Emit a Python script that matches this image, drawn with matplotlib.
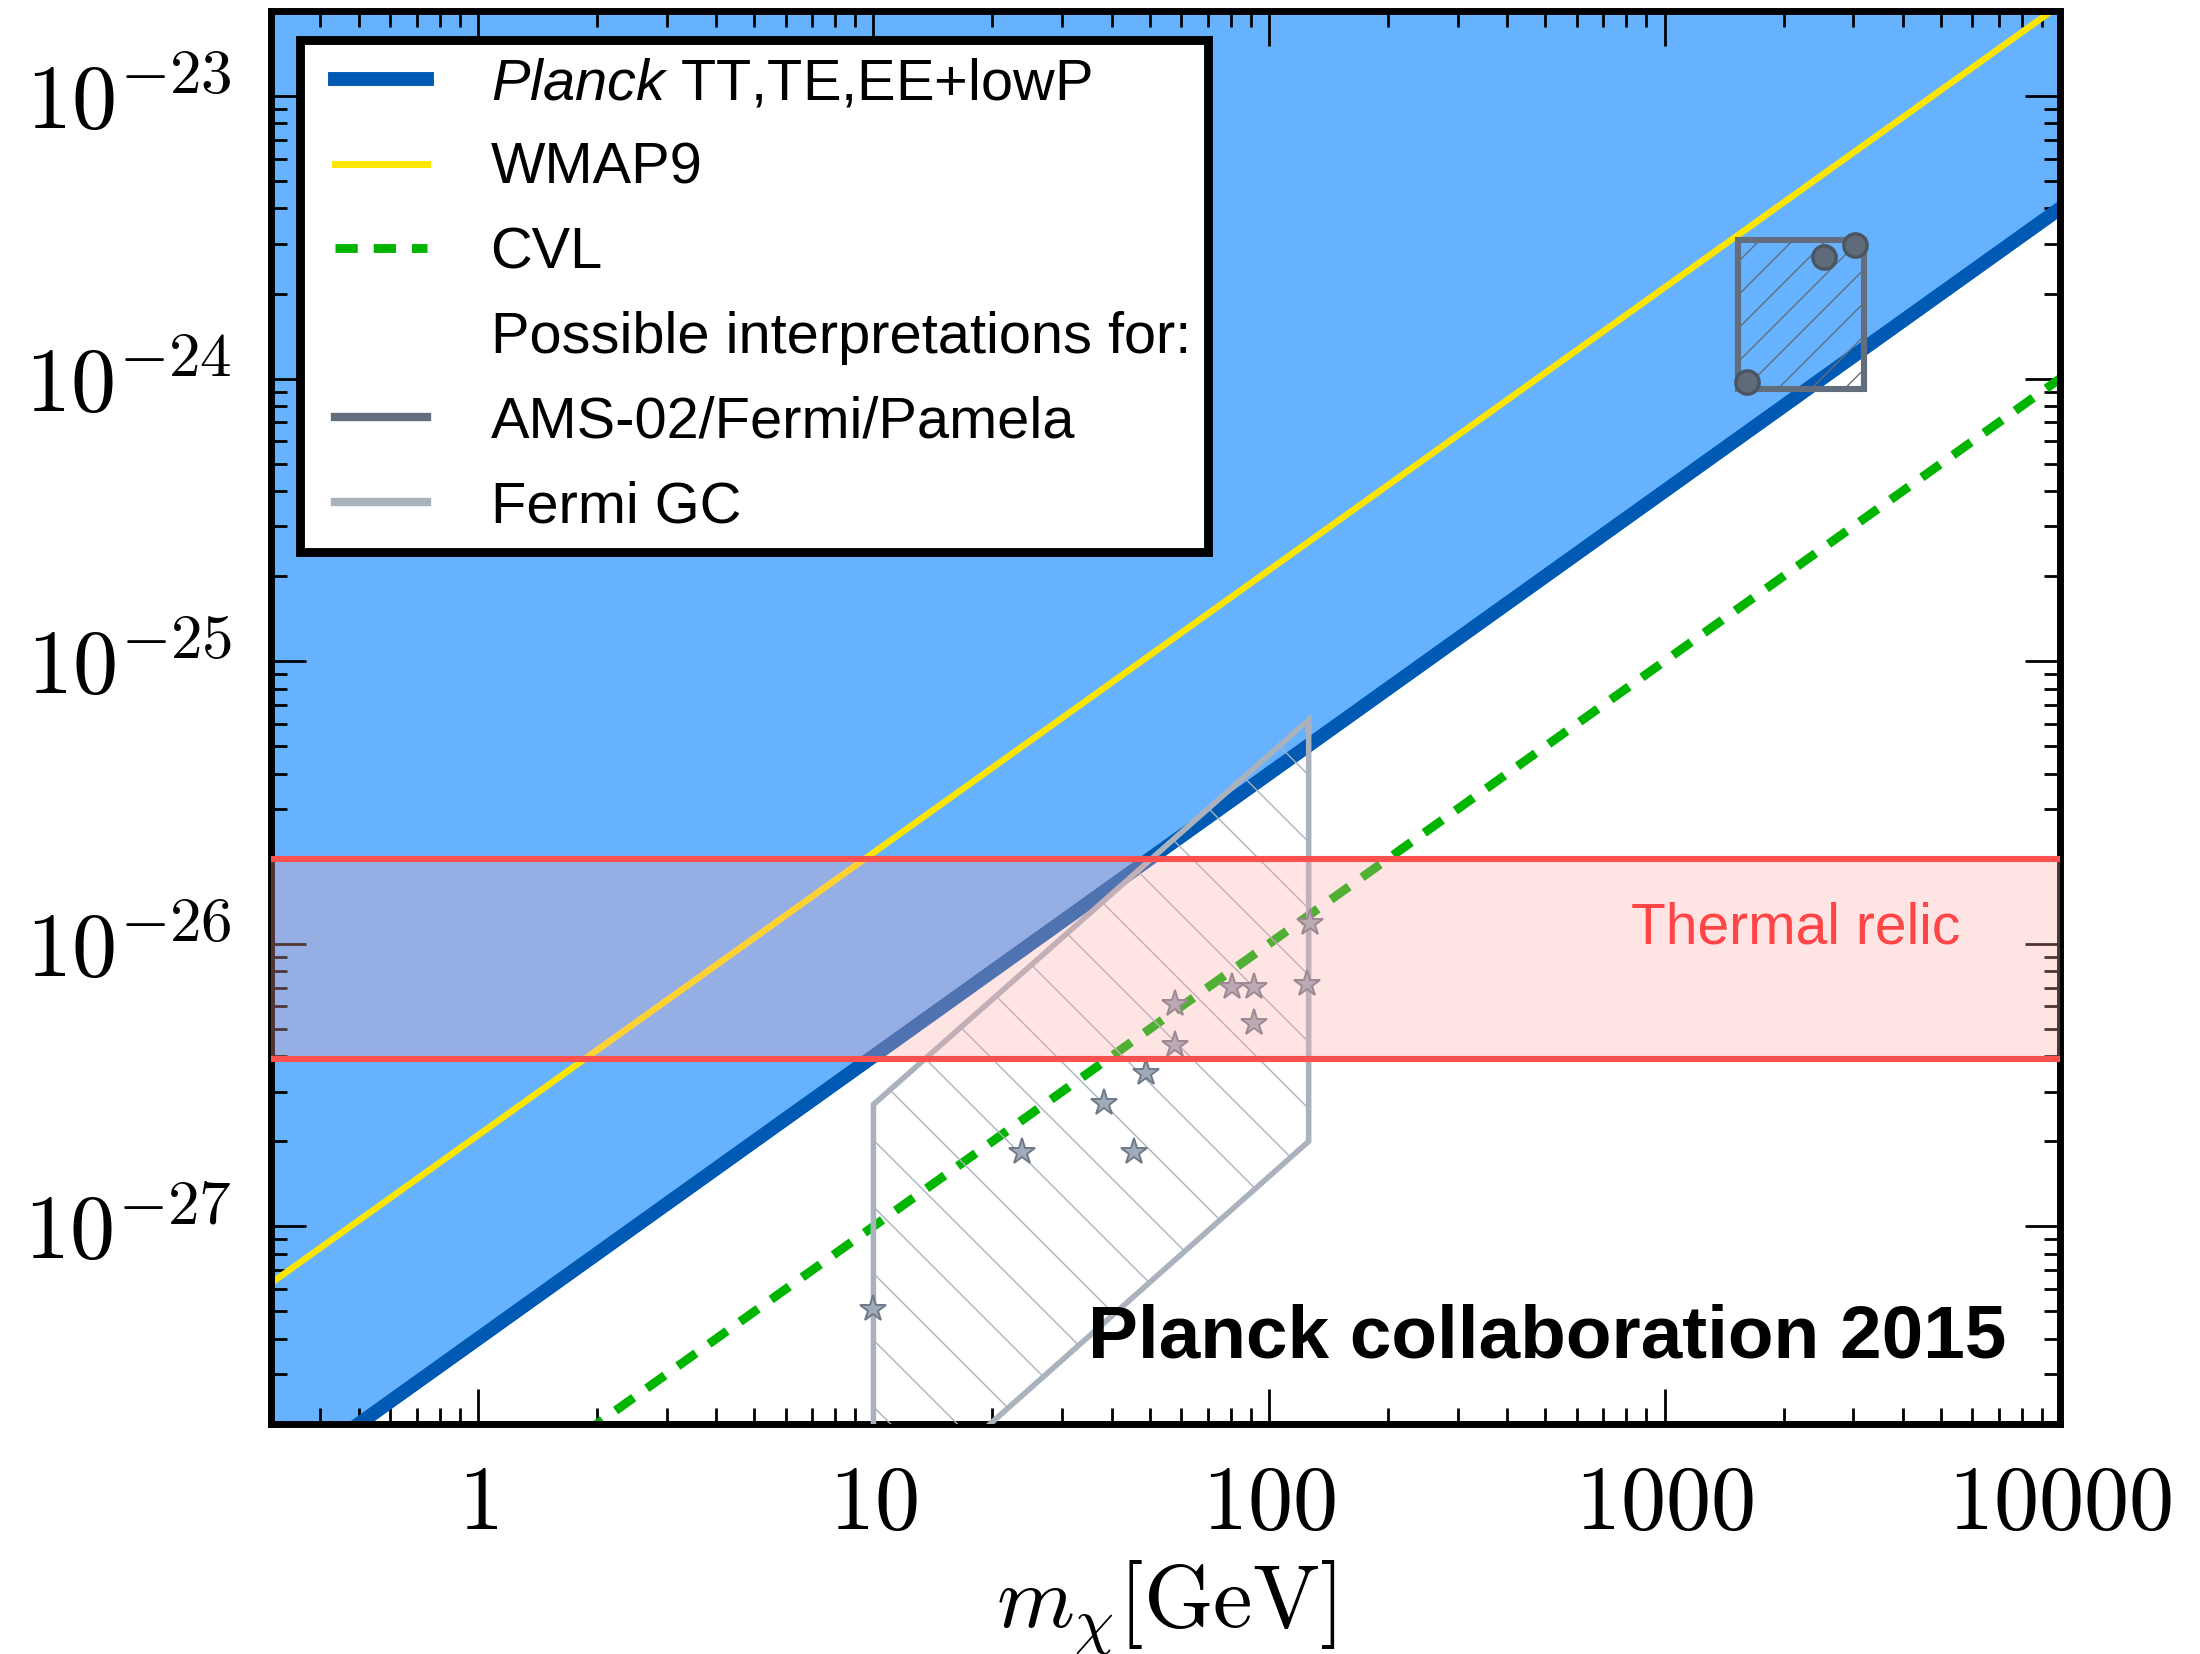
import matplotlib
matplotlib.use("Agg")
import numpy as np
import matplotlib.pyplot as plt
from matplotlib.lines import Line2D
from matplotlib.patches import Polygon, Rectangle
from matplotlib.font_manager import FontProperties
from matplotlib.ticker import FixedLocator, LogLocator, FuncFormatter, NullFormatter

plt.rcParams['font.family'] = 'Liberation Sans'
plt.rcParams['mathtext.fontset'] = 'cm'
# 'custom' math font is only used for the italic word in the legend
plt.rcParams['mathtext.it'] = 'Liberation Sans:italic'
plt.rcParams['mathtext.rm'] = 'Liberation Sans'
plt.rcParams['hatch.linewidth'] = 0.5

# DM mass range (GeV) and <sigma v> bounds at its two ends (cm^3/s)
mass_range = [0.3, 10000]
planck_sigv = [1.2e-28, 4.0e-24]
wmap9_sigv = [6.3e-28, 2.1e-23]
cvl_sigv = [3.0e-29, 1.0e-24]

thermal_relic = [3.9e-27, 2.0e-26]

# Fermi GC interpretation region and best-fit points
gc_mass = [10, 126, 126, 10]
gc_sigv = [2.7e-27, 6.2e-26, 2.0e-27, 8.6e-29]
gc_star_mass = [10.0, 23.8, 38.3, 45.7, 48.9, 57.7, 57.7, 80.6, 91.6, 91.8, 125, 126.7]
gc_star_sigv = [5.1e-28, 1.83e-27, 2.74e-27, 1.83e-27, 3.5e-27, 4.37e-27,
                6.12e-27, 7.05e-27, 7.05e-27, 5.26e-27, 7.2e-27, 1.18e-26]

# AMS-02/Fermi/Pamela region and points
ams_mass = [1530, 3200]
ams_sigv = [9.2e-25, 3.1e-24]
ams_pt_mass = [1620, 2530, 3030]
ams_pt_sigv = [9.7e-25, 2.69e-24, 2.97e-24]

x_ticks = [1, 10, 100, 1000, 10000]
y_ticks = [1e-27, 1e-26, 1e-25, 1e-24, 1e-23]

c_fill = '#66b2ff'
c_planck = '#005ab4'
c_wmap = '#ffe600'
c_cvl = '#00b400'
c_ams = '#626e7b'
c_gc = '#a9b2bd'
c_red = '#ff5050'

fig = plt.figure(figsize=(11, 8.27), dpi=200)
ax = fig.add_axes([0.1232, 0.1391, 0.8132, 0.8543])
ax.set_xscale('log')
ax.set_yscale('log')
ax.set_xlim(mass_range)
ax.set_ylim(2e-28, 2e-23)

# excluded region above the Planck bound
ax.fill_between(mass_range, planck_sigv, 1e-20, color=c_fill, lw=0, zorder=1)
ax.plot(mass_range, wmap9_sigv, color=c_wmap, lw=2.3, zorder=2)
ax.plot(mass_range, planck_sigv, color=c_planck, lw=5, zorder=2.2)
cvl_line, = ax.plot(mass_range, cvl_sigv, color=c_cvl, lw=3.2, dashes=(2.5, 1.8),
                    zorder=2.4)

# Fermi GC
ax.add_patch(Polygon(list(zip(gc_mass, gc_sigv)), closed=True, fill=False,
                     edgecolor=c_gc, lw=2.0, hatch='\\', zorder=3))
ax.plot(gc_star_mass, gc_star_sigv, '*', ms=10, mfc='#a0aab8', mec='#6f7a89',
        mew=0.7, zorder=4)

# AMS-02 / Fermi / Pamela
ax.add_patch(Rectangle((ams_mass[0], ams_sigv[0]), ams_mass[1] - ams_mass[0],
                       ams_sigv[1] - ams_sigv[0], fill=False, edgecolor=c_ams,
                       lw=2.2, hatch='//', zorder=3))
ax.plot(ams_pt_mass, ams_pt_sigv, 'o', ms=8.4, mfc='#5f6b78', mec='#4b5561',
        mew=1.2, zorder=4.5)

# thermal relic band
ax.fill_between(mass_range, thermal_relic[0], thermal_relic[1], color='#ffa9a9',
                alpha=0.314, lw=0, zorder=6)
for v in thermal_relic:
    ax.axhline(v, color=c_red, lw=2.2, zorder=7)

ax.text(0.944, 0.3397, 'Thermal relic', transform=ax.transAxes, ha='right',
        va='baseline', color='#ff4545', fontsize=20.5, zorder=8)
ax.text(0.970, 0.0467, 'Planck collaboration 2015', transform=ax.transAxes,
        ha='right', va='baseline', fontsize=26.9, fontweight='bold', zorder=8)

# axes styling
for sp in ax.spines.values():
    sp.set_linewidth(2.5)
ax.xaxis.set_major_locator(FixedLocator(x_ticks))
ax.xaxis.set_major_formatter(FuncFormatter(lambda v, p: f'${v:g}$'))
ax.xaxis.set_minor_locator(LogLocator(base=10, subs=np.arange(2, 10), numticks=20))
ax.xaxis.set_minor_formatter(NullFormatter())
ax.yaxis.set_major_locator(FixedLocator(y_ticks))
ax.yaxis.set_major_formatter(
    FuncFormatter(lambda v, p: rf'$10^{{{int(round(np.log10(v)))}}}$'))
ax.yaxis.set_minor_locator(LogLocator(base=10, subs=np.arange(2, 10), numticks=20))
ax.yaxis.set_minor_formatter(NullFormatter())
ax.tick_params(which='both', direction='in', top=True, right=True, width=1.0)
ax.tick_params(which='major', length=12.5, pad=14, labelsize=32.5)
ax.tick_params(which='minor', length=5.6)
ax.set_xlabel(r'$m_\chi[\mathrm{GeV}]$', fontsize=32, labelpad=4)

handles = [
    Line2D([], [], color=c_planck, lw=5),
    Line2D([], [], color=c_wmap, lw=2.5),
    cvl_line,
    Line2D([], [], color='none'),
    Line2D([], [], color=c_ams, lw=3),
    Line2D([], [], color=c_gc, lw=3),
]
labels = [r'$\mathit{Planck}$ TT,TE,EE+lowP', 'WMAP9', 'CVL',
          'Possible interpretations for:', 'AMS-02/Fermi/Pamela', 'Fermi GC']
prop = FontProperties(family='Liberation Sans', size=20.8, math_fontfamily='custom')
leg = ax.legend(handles, labels, loc='upper left', prop=prop, numpoints=2,
                handlelength=2.2, handletextpad=0.8, borderpad=0.3,
                labelspacing=0.53, borderaxespad=0.5, fancybox=False,
                framealpha=1, edgecolor='black')
leg.get_frame().set_linewidth(3.2)
leg.set_zorder(10)

fig.savefig('out.png', dpi=200)
